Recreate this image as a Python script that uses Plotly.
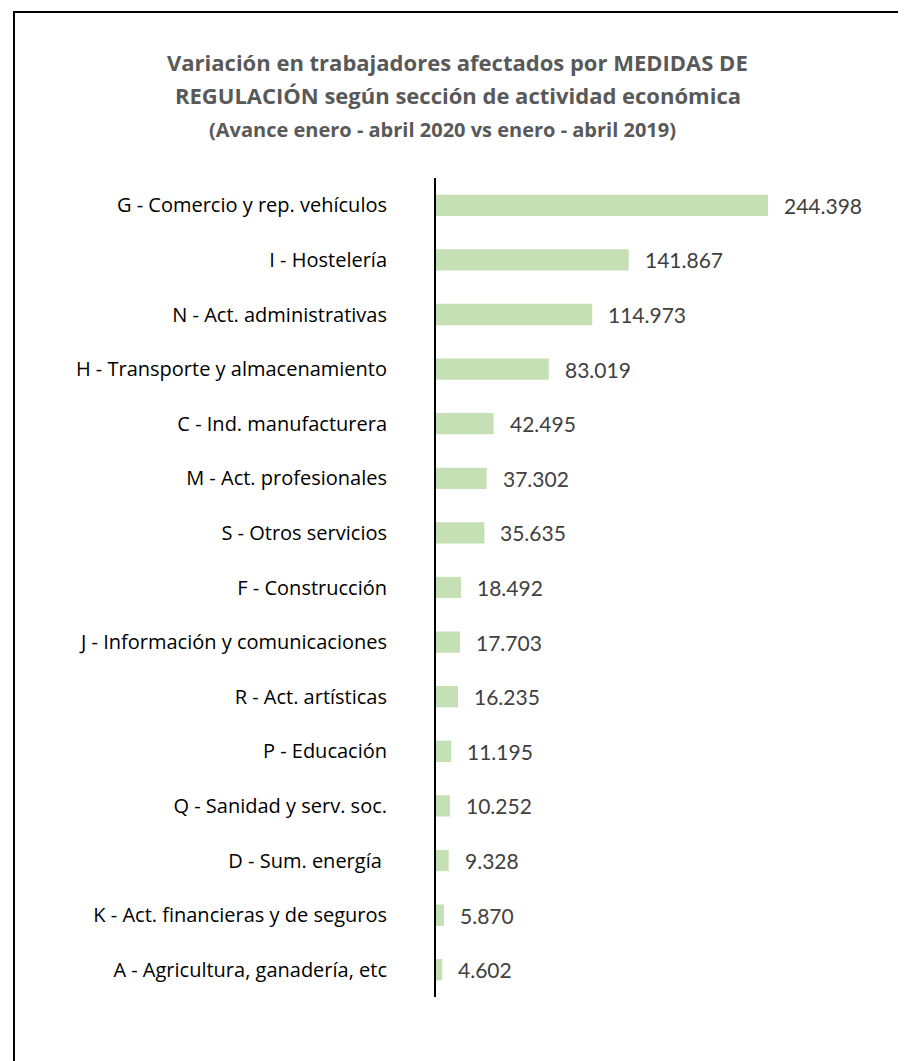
import plotly.graph_objects as go

sectores = [
    'G - Comercio y rep. vehículos',
    'I - Hostelería',
    'N - Act. administrativas',
    'H - Transporte y almacenamiento',
    'C - Ind. manufacturera',
    'M - Act. profesionales',
    'S - Otros servicios',
    'F - Construcción',
    'J - Información y comunicaciones',
    'R - Act. artísticas',
    'P - Educación',
    'Q - Sanidad y serv. soc.',
    'D - Sum. energía ',
    'K - Act. financieras y de seguros',
    'A - Agricultura, ganadería, etc',
]
variacion = [244398, 141867, 114973, 83019, 42495, 37302, 35635, 18492,
             17703, 16235, 11195, 10252, 9328, 5870, 4602]

titulo_1 = 'Variación en trabajadores afectados por MEDIDAS DE'
titulo_2 = 'REGULACIÓN según sección de actividad económica'
titulo_3 = '(Avance enero - abril 2020 vs enero - abril 2019)'


def fmt_es(v):
    return f'{v:,}'.replace(',', '.')


fig = go.Figure(go.Bar(
    x=variacion, y=sectores, orientation='h',
    marker_color='#c5e0b4', marker_line_width=0,
))

# etiquetas de valor a la derecha de cada barra
for s, v in zip(sectores, variacion):
    fig.add_annotation(x=v, y=s, text=fmt_es(v), showarrow=False,
                       xanchor='left', xshift=14,
                       font=dict(family='Lato', size=21, color='#404040'))

# la pagina tiene 8px de margen, se descuentan
W, H = 906, 1061
L, R, T, B = 428, 34, 170, 72
pw, ph = W - L - R, H - T - B

# titulo
for txt, cx, cy, sz in [(titulo_1, 449, 54, 22), (titulo_2, 450, 87, 22), (titulo_3, 434, 121, 20)]:
    fig.add_annotation(text='<b>' + txt + '</b>', showarrow=False,
                       xref='paper', yref='paper',
                       x=(cx - L) / pw, y=(H - B - cy) / ph,
                       xanchor='center', yanchor='middle',
                       font=dict(family='Open Sans', size=sz, color='#595959'))

# marco del grafico
fig.add_shape(type='rect', xref='paper', yref='paper',
              x0=(6 - L) / pw, x1=1.2, y0=-0.2, y1=(H - B - 4) / ph,
              line=dict(color='black', width=2))

fig.update_layout(
    width=W, height=H,
    margin=dict(l=L, r=R, t=T, b=B),
    plot_bgcolor='white', paper_bgcolor='white',
    bargap=0.61, showlegend=False,
    font=dict(family='Open Sans', size=20, color='#000000'),
)
fig.update_xaxes(range=[0, 326800], visible=False)
fig.update_yaxes(autorange='reversed', showline=True, linecolor='black', linewidth=2,
                 ticks='', ticklabelstandoff=43, showgrid=False,
                 tickfont=dict(family='Open Sans', size=20, color='#000000'))

fig.write_html('out.html')
